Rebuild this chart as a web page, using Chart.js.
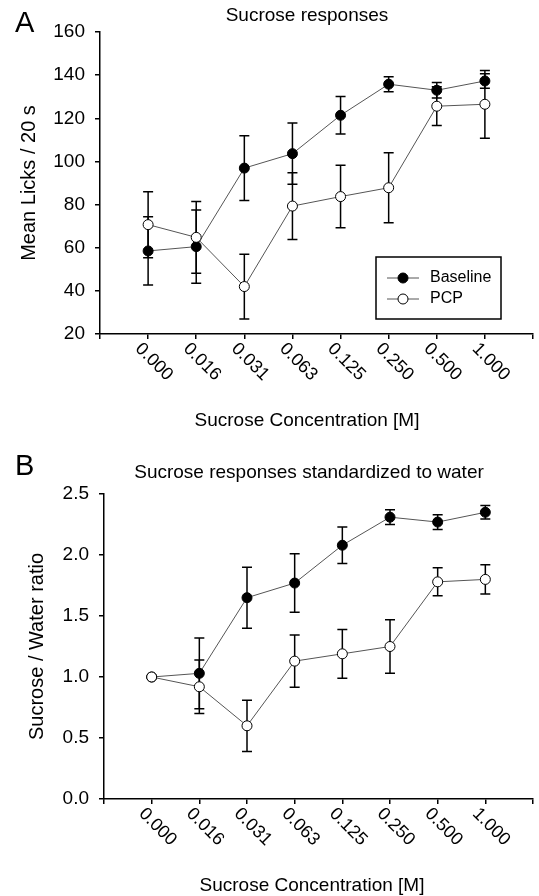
<!DOCTYPE html>
<html>
<head>
<meta charset="utf-8">
<script src="https://cdn.jsdelivr.net/npm/chart.js@4.4.1/dist/chart.umd.min.js"></script>
<style>
  html, body { margin: 0; padding: 0; background: #fff; }
  #wrap { position: relative; width: 539px; height: 896px; }
  .panel { position: absolute; left: 0; width: 539px; }
  #panelA { top: 0; height: 440px; }
  #panelB { top: 440px; height: 456px; }
</style>
</head>
<body>
<div id="wrap">
  <div class="panel" id="panelA"><canvas id="chartA"></canvas></div>
  <div class="panel" id="panelB"><canvas id="chartB"></canvas></div>
</div>
<script>
// x categories (sucrose concentration, M)
var concentrations = ["0.000", "0.016", "0.031", "0.063", "0.125", "0.250", "0.500", "1.000"];
var seriesNames = ["Baseline", "PCP"];

// panel A - mean licks / 20 s (mean and SEM)
var licksBaseline = [58.5, 60.5, 96.9, 103.6, 121.4, 135.8, 133.0, 137.3];
var licksBaselineSem = [15.8, 17.0, 15.0, 14.2, 8.7, 3.5, 3.6, 3.4];
var licksPcp = [70.7, 64.8, 42.0, 79.3, 83.7, 87.8, 125.6, 126.5];
var licksPcpSem = [15.3, 16.6, 15.0, 15.5, 14.5, 16.2, 9.0, 15.7];
var licksTicks = [20, 40, 60, 80, 100, 120, 140, 160];

// panel B - sucrose / water ratio (mean and SEM)
var ratioBaseline = [1.00, 1.03, 1.65, 1.77, 2.08, 2.31, 2.27, 2.35];
var ratioBaselineSem = [0, 0.29, 0.25, 0.24, 0.15, 0.06, 0.06, 0.055];
var ratioPcp = [1.00, 0.92, 0.60, 1.13, 1.19, 1.25, 1.78, 1.80];
var ratioPcpSem = [0, 0.22, 0.21, 0.215, 0.20, 0.22, 0.115, 0.12];
var ratioTicks = [0, 0.5, 1.0, 1.5, 2.0, 2.5];

var FONT = '"Liberation Sans", Arial, Helvetica, sans-serif';

var toPoints = function (arr) {
    return arr.map(function (v, i) { return {x: i, y: v}; });
};

// vertical SEM bars, drawn under the markers
var errorBars = {
    id: 'errorBars',
    beforeDatasetsDraw: function (chart) {
        var ctx = chart.ctx, xs = chart.scales.x, ys = chart.scales.y;
        ctx.save();
        ctx.strokeStyle = '#000';
        ctx.lineWidth = 1.5;
        chart.data.datasets.forEach(function (ds) {
            ds.data.forEach(function (p, i) {
                var e = ds.sem[i];
                if (!e) return;
                var x = xs.getPixelForValue(p.x);
                var y1 = ys.getPixelForValue(p.y + e);
                var y2 = ys.getPixelForValue(p.y - e);
                ctx.beginPath();
                ctx.moveTo(x, y1); ctx.lineTo(x, y2);
                ctx.moveTo(x - 5, y1); ctx.lineTo(x + 5, y1);
                ctx.moveTo(x - 5, y2); ctx.lineTo(x + 5, y2);
                ctx.stroke();
            });
        });
        ctx.restore();
    }
};

// panel letter, title, slanted category labels, x title, boxed legend
var decorations = {
    id: 'decorations',
    afterDraw: function (chart, args, o) {
        var ctx = chart.ctx, xs = chart.scales.x;
        var axisY = chart.chartArea.bottom;
        ctx.save();
        ctx.fillStyle = '#000';
        ctx.textBaseline = 'alphabetic';

        ctx.font = '29px ' + FONT;
        ctx.textAlign = 'left';
        ctx.fillText(o.letter, 15, o.letterY);

        ctx.font = '19px ' + FONT;
        ctx.textAlign = 'center';
        ctx.fillText(o.title, o.titleX, o.titleY);
        ctx.fillText('Sucrose Concentration [M]', o.xTitleX, o.xTitleY);

        ctx.font = '18px ' + FONT;
        ctx.textAlign = 'left';
        ctx.textBaseline = 'middle';
        concentrations.forEach(function (lab, i) {
            var x = xs.getPixelForValue(i);
            ctx.save();
            ctx.translate(x - 10, axisY + 12);
            ctx.rotate(Math.PI / 4);
            ctx.fillText(lab, 0, 0);
            ctx.restore();
        });

        if (o.legend) {
            var L = o.legend;
            ctx.strokeStyle = '#000';
            ctx.lineWidth = 1.5;
            ctx.strokeRect(L.x, L.y, L.w, L.h);
            ctx.font = '16px ' + FONT;
            seriesNames.forEach(function (name, k) {
                var ds = chart.data.datasets.filter(function (d) { return d.label === name; })[0];
                var cy = L.y + 21 + k * 21;
                ctx.strokeStyle = ds.borderColor;
                ctx.lineWidth = 1;
                ctx.beginPath();
                ctx.moveTo(L.x + 11, cy); ctx.lineTo(L.x + 43, cy);
                ctx.stroke();
                ctx.beginPath();
                ctx.arc(L.x + 27, cy, 5, 0, Math.PI * 2);
                ctx.fillStyle = ds.pointBackgroundColor;
                ctx.fill();
                ctx.strokeStyle = '#000';
                ctx.stroke();
                ctx.fillStyle = '#000';
                ctx.fillText(name, L.x + 54, cy);
            });
        }
        ctx.restore();
    }
};

var makeChart = function (id, c) {
    var datasets = [
        {
            label: seriesNames[1],
            data: toPoints(c.pcp),
            sem: c.pcpSem,
            borderColor: '#555',
            borderWidth: 1,
            pointRadius: 5,
            pointBorderWidth: 1,
            pointBorderColor: '#000',
            pointBackgroundColor: '#fff',
            order: 0
        },
        {
            label: seriesNames[0],
            data: toPoints(c.base),
            sem: c.baseSem,
            borderColor: '#555',
            borderWidth: 1,
            pointRadius: 5,
            pointBorderWidth: 1,
            pointBorderColor: '#000',
            pointBackgroundColor: '#000',
            order: 1
        }
    ];

    var ctx = document.getElementById(id).getContext('2d');
    return new Chart(ctx, {
        type: 'line',
        data: {datasets: datasets},
        options: {
            responsive: true,
            maintainAspectRatio: false,
            animation: false,
            events: [],
            clip: false,
            layout: {padding: {top: c.top, right: c.right, bottom: 0, left: 0}},
            plugins: {
                legend: {display: false},
                tooltip: {enabled: false},
                decorations: c.deco
            },
            scales: {
                x: {
                    type: 'linear',
                    min: -1,
                    max: concentrations.length,
                    ticks: {display: false, stepSize: 1},
                    grid: {drawOnChartArea: false, drawTicks: true, tickLength: 5, color: '#000', lineWidth: 1.5},
                    border: {display: true, color: '#000', width: 1.5},
                    afterFit: function (scale) { scale.height = c.xHeight; }
                },
                y: {
                    min: c.yTicks[0],
                    max: c.yTicks[c.yTicks.length - 1],
                    afterBuildTicks: function (scale) {
                        scale.ticks = c.yTicks.map(function (v) { return {value: v}; });
                    },
                    ticks: {
                        color: '#000',
                        padding: 10,
                        font: {family: FONT, size: 19},
                        callback: c.yFormat
                    },
                    grid: {drawOnChartArea: false, drawTicks: true, tickLength: 5, color: '#000', lineWidth: 1.5},
                    border: {display: true, color: '#000', width: 1.5},
                    title: {
                        display: true,
                        text: c.yTitle,
                        color: '#000',
                        font: {family: FONT, size: 20},
                        padding: {top: c.yTitlePad, bottom: 0}
                    },
                    afterFit: function (scale) { scale.width = c.left; }
                }
            }
        },
        plugins: [errorBars, decorations]
    });
};

makeChart('chartA', {
    base: licksBaseline, baseSem: licksBaselineSem,
    pcp: licksPcp, pcpSem: licksPcpSem,
    yTicks: licksTicks,
    yFormat: function (v) { return String(v); },
    yTitle: 'Mean Licks / 20 s',
    yTitlePad: 17,
    top: 32, right: 6, left: 100, xHeight: 106,
    deco: {
        letter: 'A', letterY: 32,
        title: 'Sucrose responses', titleX: 307, titleY: 21,
        xTitleX: 307, xTitleY: 426,
        legend: {x: 376, y: 257, w: 125, h: 62}
    }
});

makeChart('chartB', {
    base: ratioBaseline, baseSem: ratioBaselineSem,
    pcp: ratioPcp, pcpSem: ratioPcpSem,
    yTicks: ratioTicks,
    yFormat: function (v) { return Number(v).toFixed(1); },
    yTitle: 'Sucrose / Water ratio',
    yTitlePad: 25,
    top: 54, right: 1, left: 104, xHeight: 97,
    deco: {
        letter: 'B', letterY: 35,
        title: 'Sucrose responses standardized to water', titleX: 309, titleY: 38,
        xTitleX: 312, xTitleY: 451,
        legend: null
    }
});
</script>
</body>
</html>
